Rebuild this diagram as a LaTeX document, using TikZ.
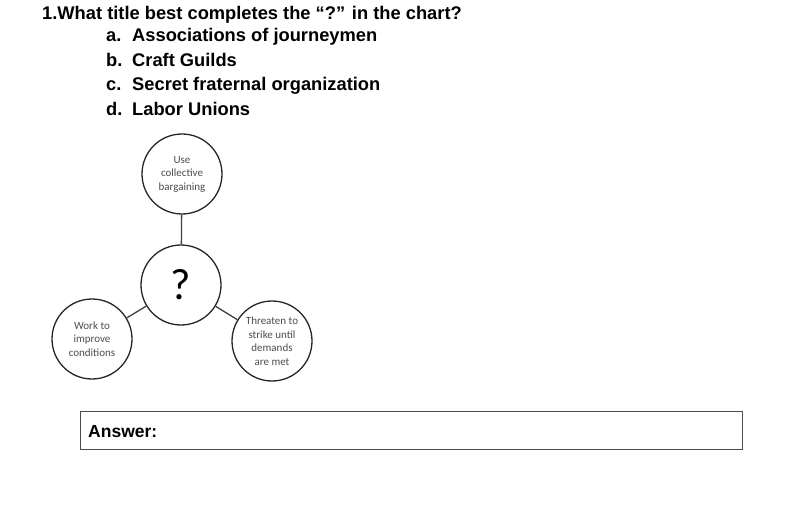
\documentclass[tikz,border=0pt]{standalone}
\usepackage{fontspec}
\setmainfont{Liberation Sans}
\newfontfamily\chartfont{Carlito}
\begin{document}
\begin{tikzpicture}[x=1pt,y=-1pt,
  question/.style={anchor=base west,inner sep=0pt,font=\fontsize{18.3}{21}\selectfont\bfseries},
  bubble/.style={circle,draw=black!85,line width=1.3pt,minimum size=80pt,inner sep=0pt,
    align=center,text=black!70,font=\chartfont\fontsize{11}{13.5}\selectfont},
  link/.style={draw=black!75,line width=1.3pt}]
\useasboundingbox (0,0) rectangle (800,529);
 \node[question] (q) at (42,20) {1.What title best completes the “?” in the chart?};
 \foreach \l/\t [count=\i] in {a/Associations of journeymen,b/Craft Guilds,c/Secret fraternal organization,d/Labor Unions} {
  \node[question] (l\i) at (106,17.6+24.4*\i) {\l.};
  \node[question] (t\i) at (132,17.6+24.4*\i) {\t};
 }
 \node[bubble] (use) at (182,174) {Use\\collective\\bargaining};
 \node[bubble,font=\chartfont\fontsize{44}{44}\selectfont,text=black] (mid) at (181,285) {?};
 \node[bubble] (work) at (92,339) {Work to\\improve\\conditions};
 \node[bubble] (threat) at (272,341) {Threaten to\\strike until\\demands\\are met};
 \path[link] (use) -- (mid);
 \path[link] (mid) -- (work);
 \path[link] (mid) -- (threat);
 % answer box
 \draw[black!70,line width=1pt] (80,411) rectangle (742,449);
 \node[anchor=base west,inner sep=0pt,font=\fontsize{17.5}{20}\selectfont\bfseries] (ans) at (88,437.5) {Answer:};
\end{tikzpicture}
\end{document}
